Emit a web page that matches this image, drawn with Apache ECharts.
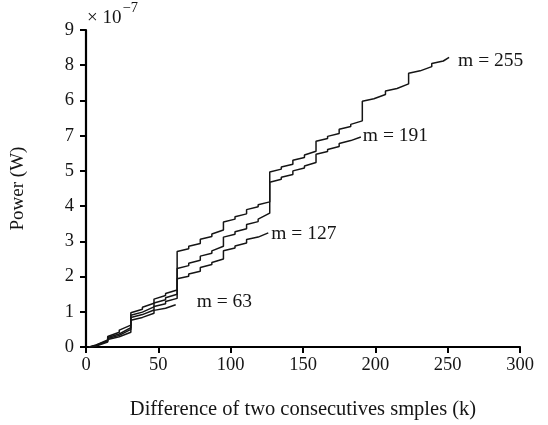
<!DOCTYPE html>
<html>
<head>
<meta charset="utf-8">
<script src="https://cdn.jsdelivr.net/npm/echarts@6/dist/echarts.min.js"></script>
<style>
  html, body { margin: 0; padding: 0; background: #fff; }
  #chart { width: 548px; height: 425px; }
</style>
</head>
<body>
<div id="chart"></div>
<script>
// Staircase power curves: [k, power (x1e-7 W)] vertices, each step drawn as
// the value just before the jump followed by the value just after it.
const curveM255 = [
  [2, 0.00], [7, 0.06], [7, 0.10], [15, 0.20], [15, 0.30], [23, 0.42], [23, 0.48],
  [31, 0.62], [31, 0.97], [39, 1.07], [39, 1.13], [47, 1.24], [47, 1.36], [55, 1.46], [55, 1.52],
  [63, 1.62], [63, 2.71], [71, 2.79], [71, 2.86], [79, 2.94], [79, 3.06], [87, 3.14], [87, 3.21],
  [95, 3.32], [95, 3.55], [103, 3.63], [103, 3.70], [111, 3.78], [111, 3.90], [119, 3.98], [119, 4.04],
  [127, 4.12], [127, 4.97], [135, 5.05], [135, 5.11], [143, 5.19], [143, 5.30], [151, 5.38], [151, 5.45],
  [159, 5.56], [159, 5.84], [167, 5.92], [167, 5.98], [175, 6.06], [175, 6.18], [183, 6.26], [183, 6.32],
  [191, 6.42], [191, 6.98], [199, 7.05], [199, 7.10], [207, 7.17], [207, 7.27], [215, 7.34], [215, 7.39],
  [223, 7.47], [223, 7.77], [231, 7.84], [231, 7.89], [239, 7.96], [239, 8.05], [247, 8.12], [247, 8.17],
  [251, 8.22]
];
const curveM191 = [
  [3, 0.00], [7, 0.05], [7, 0.09], [15, 0.18], [15, 0.27], [23, 0.37], [23, 0.42],
  [31, 0.55], [31, 0.90], [39, 0.99], [39, 1.04], [47, 1.14], [47, 1.25], [55, 1.34], [55, 1.40],
  [63, 1.50], [63, 2.23], [71, 2.31], [71, 2.38], [79, 2.46], [79, 2.58], [87, 2.66], [87, 2.73],
  [95, 2.86], [95, 3.12], [103, 3.20], [103, 3.27], [111, 3.36], [111, 3.48], [119, 3.56], [119, 3.63],
  [127, 3.80], [127, 4.68], [135, 4.76], [135, 4.82], [143, 4.90], [143, 5.00], [151, 5.08], [151, 5.14],
  [159, 5.24], [159, 5.47], [167, 5.55], [167, 5.61], [175, 5.69], [175, 5.78], [183, 5.86], [183, 5.90],
  [190, 5.96]
];
const curveM127 = [
  [3, 0.00], [7, 0.04], [7, 0.08], [15, 0.16], [15, 0.24], [23, 0.33], [23, 0.38],
  [31, 0.50], [31, 0.84], [39, 0.92], [39, 0.97], [47, 1.05], [47, 1.15], [55, 1.23], [55, 1.29],
  [63, 1.38], [63, 1.94], [71, 2.01], [71, 2.07], [79, 2.15], [79, 2.26], [87, 2.34], [87, 2.40],
  [95, 2.50], [95, 2.73], [103, 2.81], [103, 2.87], [111, 2.95], [111, 3.05], [119, 3.12], [119, 3.17],
  [126, 3.24]
];
const curveM63 = [
  [4, 0.00], [7, 0.03], [7, 0.06], [15, 0.14], [15, 0.21], [23, 0.29], [23, 0.33],
  [31, 0.42], [31, 0.76], [39, 0.84], [39, 0.88], [47, 0.96], [47, 1.04], [55, 1.10], [55, 1.14],
  [62, 1.20]
];

const curveNames = ['m = 255', 'm = 191', 'm = 127', 'm = 63'];
const curveData = [curveM255, curveM191, curveM127, curveM63];

// Tick labels of the power axis, listed from value 0 upward.
const yTickLabels = ['0', '1', '2', '3', '4', '5', '7', '6', '8', '9'];
const xTicks = [0, 50, 100, 150, 200, 250, 300];

const SERIF = "'Liberation Serif', 'DejaVu Serif', serif";
const INK = '#151515';

// End-label placement for each curve
const labelOffsets = [[9, 3], [2, -1], [3, 1], [21, -3]];

const chart = echarts.init(document.getElementById('chart'), null, { renderer: 'canvas' });

chart.setOption({
  animation: false,
  backgroundColor: '#fff',
  grid: { left: 86, right: 28, top: 30, bottom: 76, containLabel: false },
  xAxis: {
    type: 'value',
    min: xTicks[0],
    max: xTicks[xTicks.length - 1],
    interval: 50,
    name: 'Difference of two consecutives smples (k)',
    nameLocation: 'middle',
    nameGap: 52,
    nameTextStyle: { fontFamily: SERIF, fontSize: 20.5, color: INK },
    axisLine: { onZero: false, lineStyle: { color: '#000', width: 2.2 } },
    axisTick: { length: 6, lineStyle: { color: '#000', width: 2 } },
    axisLabel: { margin: 9, fontFamily: SERIF, fontSize: 18.5, color: INK },
    splitLine: { show: false }
  },
  yAxis: {
    type: 'value',
    min: 0,
    max: 9,
    interval: 1,
    name: 'Power (W)',
    nameLocation: 'middle',
    nameRotate: 90,
    nameGap: 58,
    nameTextStyle: { fontFamily: SERIF, fontSize: 19, color: INK },
    axisLine: { show: true, lineStyle: { color: '#000', width: 2.2 } },
    axisTick: { show: true, length: 6, lineStyle: { color: '#000', width: 2 } },
    axisLabel: {
      margin: 12, fontFamily: SERIF, fontSize: 18.5, color: INK,
      formatter: (v) => yTickLabels[Math.round(v)]
    },
    splitLine: { show: false }
  },
  graphic: [{
    type: 'text',
    left: 87,
    top: 1,
    style: {
      text: '{a|× 10}{b|−7}',
      rich: {
        a: { fontFamily: SERIF, fontSize: 19, fill: INK, padding: [8, 0, 0, 0] },
        b: { fontFamily: SERIF, fontSize: 14.5, fill: INK, verticalAlign: 'top', padding: [0, 0, 0, 1] }
      }
    }
  }],
  series: curveData.map((data, i) => ({
    name: curveNames[i],
    type: 'line',
    data: data,
    showSymbol: false,
    symbol: 'none',
    lineStyle: { color: INK, width: 1.5 },
    endLabel: {
      show: true,
      formatter: curveNames[i],
      fontFamily: SERIF,
      fontSize: 19.5,
      color: INK,
      distance: 0,
      offset: labelOffsets[i]
    },
    z: 2
  }))
});
</script>
</body>
</html>
